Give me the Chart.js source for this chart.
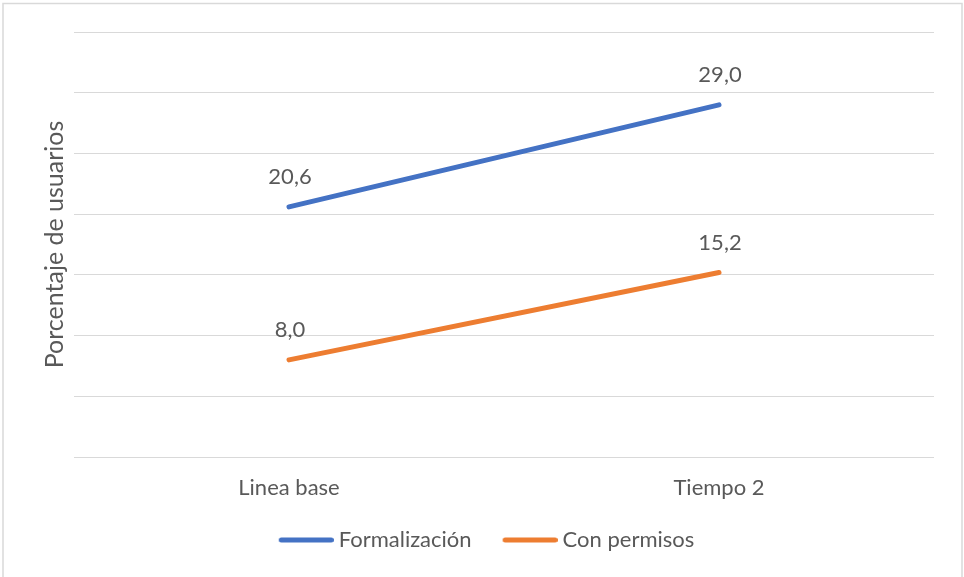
<!DOCTYPE html>
<html lang="es">
<head>
  <meta charset="UTF-8">
  <title>Porcentaje de usuarios</title>
  <script src="https://cdn.jsdelivr.net/npm/chart.js"></script>
  <style>
    html, body { margin: 0; padding: 0; background: #ffffff; }
    #wrap { width: 964px; height: 577px; position: relative; }
  </style>
</head>
<body>
<div id="wrap">
  <canvas id="chart"></canvas>
</div>
<script>
  // Datos
  const categorias = ['Linea base', 'Tiempo 2'];
  const formalizacion = [20.6, 29.0];
  const conPermisos = [8.0, 15.2];
  const nombresSeries = ['Formalización', 'Con permisos'];
  const tituloEjeY = 'Porcentaje de usuarios';

  const gris = '#595959';
  const fuente = 'Lato, "Open Sans", sans-serif';

  // Muestra de línea para la leyenda (desplazada para pegarse al texto)
  function lineaLeyenda(color) {
    const cv = document.createElement('canvas');
    cv.width = 62;
    cv.height = 8;
    const c = cv.getContext('2d');
    c.strokeStyle = color;
    c.lineWidth = 5;
    c.lineCap = 'round';
    c.beginPath();
    c.moveTo(9.5, 4);
    c.lineTo(59.5, 4);
    c.stroke();
    return cv;
  }

  // Marco exterior del gráfico
  const marco = {
    id: 'marco',
    beforeDraw(chart) {
      const c = chart.ctx;
      c.save();
      c.strokeStyle = '#D9D9D9';
      c.lineWidth = 1.5;
      c.strokeRect(3, 3.5, 959, 590);
      c.restore();
    }
  };

  // Etiquetas de datos encima de cada punto
  const etiquetas = {
    id: 'etiquetas',
    afterDatasetsDraw(chart) {
      const c = chart.ctx;
      c.save();
      c.font = '22px ' + fuente;
      c.fillStyle = gris;
      c.textAlign = 'center';
      c.textBaseline = 'middle';
      chart.data.datasets.forEach((ds, i) => {
        chart.getDatasetMeta(i).data.forEach((pt, j) => {
          c.fillText(ds.data[j].toFixed(1).replace('.', ','), pt.x + 1, pt.y - 30);
        });
      });
      c.restore();
    }
  };

  const ctx = document.getElementById('chart').getContext('2d');
  new Chart(ctx, {
    type: 'line',
    data: {
      labels: categorias,
      datasets: [{
        label: nombresSeries[0],
        data: formalizacion,
        borderColor: '#4472C4',
        backgroundColor: '#4472C4',
        borderWidth: 5,
        borderCapStyle: 'round',
        pointRadius: 0,
        pointStyle: lineaLeyenda('#4472C4')
      }, {
        label: nombresSeries[1],
        data: conPermisos,
        borderColor: '#ED7D31',
        backgroundColor: '#ED7D31',
        borderWidth: 5,
        borderCapStyle: 'round',
        pointRadius: 0,
        pointStyle: lineaLeyenda('#ED7D31')
      }]
    },
    options: {
      responsive: true,
      maintainAspectRatio: false,
      animation: false,
      layout: { padding: { left: 8, right: 0, top: 32, bottom: 16 } },
      plugins: {
        legend: {
          position: 'bottom',
          labels: {
            usePointStyle: true,
            pointStyleWidth: 50,
            padding: 30,
            color: gris,
            font: { family: fuente, size: 22 }
          }
        },
        tooltip: { enabled: false }
      },
      scales: {
        x: {
          offset: true,
          grid: { display: false, drawTicks: false },
          border: { display: false },
          ticks: { color: gris, padding: 20, font: { family: fuente, size: 22, lineHeight: 1 } },
          afterFit(scale) { scale.height = 42; }
        },
        y: {
          min: 0,
          max: 35,
          ticks: { display: false, stepSize: 5 },
          grid: { color: '#D9D9D9', drawTicks: false },
          border: { display: false },
          title: {
            display: true,
            text: tituloEjeY,
            color: gris,
            padding: { top: 32, bottom: 0 },
            font: { family: fuente, size: 25 }
          },
          afterFit(scale) { scale.width = 66; }
        },
        y2: {
          position: 'right',
          display: true,
          min: 0,
          max: 35,
          ticks: { display: false },
          grid: { display: false },
          border: { display: false },
          afterFit(scale) { scale.width = 30; }
        }
      }
    },
    plugins: [marco, etiquetas]
  });
</script>
</body>
</html>
